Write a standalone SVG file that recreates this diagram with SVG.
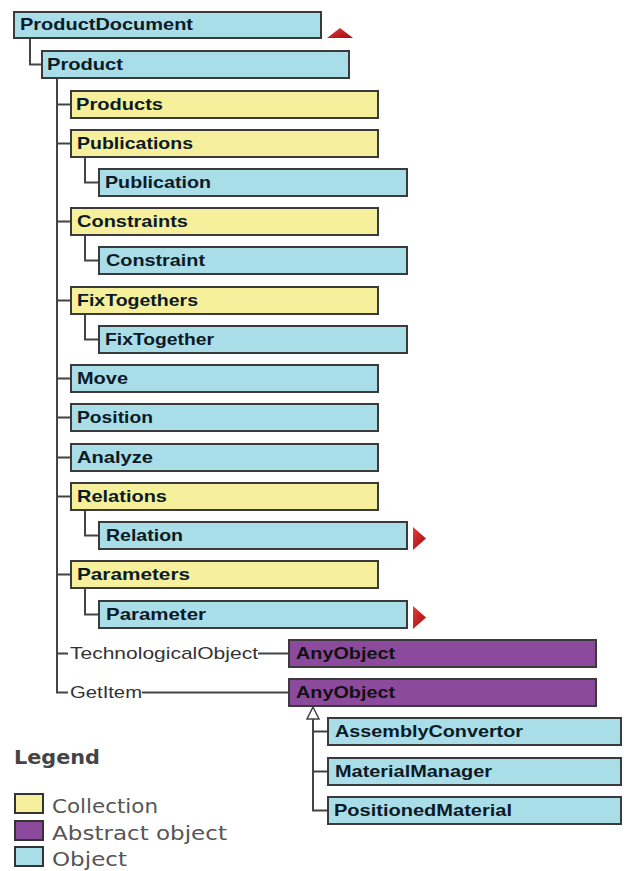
<svg xmlns="http://www.w3.org/2000/svg" width="624" height="871" viewBox="0 0 624 871">
<style>
.box rect{stroke:#3a3a3a;stroke-width:2}
.obj rect{fill:#a9dde8}
.col rect{fill:#f6f09c}
.abs rect{fill:#8b4a9c}
.box text{font-family:"Liberation Sans",Arial,sans-serif;font-weight:bold;font-size:17px;fill:#0c1a26}
.abs text{fill:#111}
.conn path{fill:none;stroke:#444;stroke-width:2}
.lbl{font-family:"Liberation Sans",Arial,sans-serif;font-size:17px;fill:#333}
.leg{font-family:"DejaVu Sans",Verdana,sans-serif;font-size:19px;fill:#555}
.sw{stroke:#333;stroke-width:2}
</style>
<defs>
<linearGradient id="red" x1="0" y1="0" x2="1" y2="1">
<stop offset="0" stop-color="#e83a3a"/>
<stop offset="1" stop-color="#9c0c0c"/>
</linearGradient>
</defs>
<g class="conn" id="connectors">
<path d="M30 38V64.5H42"/>
<path d="M57 78V692.5H68"/>
<path d="M57 104.5H71M57 143.5H71M57 221.5H71M57 300.5H71M57 378.5H71M57 417.5H71M57 457.5H71M57 496.5H71M57 574.5H71M57 653.5H68"/>
<path d="M85 157V182.5H99M85 235V260.5H99M85 314V339.5H99M85 510V535.5H99M85 588V614.5H99"/>
<path d="M258 653.5H289M142 692.5H289"/>
<path d="M313 719V810.5H328M313 731.5H328M313 771.5H328"/>
<polygon points="313,707 319,719 307,719" fill="#fff" stroke="#444" stroke-width="1.5"/>
<text class="lbl" x="70" y="659" textLength="188" lengthAdjust="spacingAndGlyphs">TechnologicalObject</text>
<text class="lbl" x="70" y="698" textLength="72" lengthAdjust="spacingAndGlyphs">GetItem</text>
</g>
<g id="n-ProductDocument" class="box obj"><rect x="14" y="12" width="307" height="26"/><text x="20" y="30" textLength="173" lengthAdjust="spacingAndGlyphs">ProductDocument</text></g>
<polygon points="327,38 340,28 353,38" fill="url(#red)"/>
<g id="n-Product" class="box obj"><rect x="42" y="51" width="307" height="27"/><text x="47" y="70" textLength="76" lengthAdjust="spacingAndGlyphs">Product</text></g>
<g id="n-Products" class="box col"><rect x="71" y="91" width="307" height="27"/><text x="76" y="110" textLength="87" lengthAdjust="spacingAndGlyphs">Products</text></g>
<g id="n-Publications" class="box col"><rect x="71" y="130" width="307" height="27"/><text x="77" y="149" textLength="116" lengthAdjust="spacingAndGlyphs">Publications</text></g>
<g id="n-Publication" class="box obj"><rect x="99" y="169" width="308" height="27"/><text x="105" y="188" textLength="106" lengthAdjust="spacingAndGlyphs">Publication</text></g>
<g id="n-Constraints" class="box col"><rect x="71" y="208" width="307" height="27"/><text x="77" y="227" textLength="111" lengthAdjust="spacingAndGlyphs">Constraints</text></g>
<g id="n-Constraint" class="box obj"><rect x="99" y="247" width="308" height="27"/><text x="106" y="266" textLength="99" lengthAdjust="spacingAndGlyphs">Constraint</text></g>
<g id="n-FixTogethers" class="box col"><rect x="71" y="287" width="307" height="27"/><text x="77" y="306" textLength="121" lengthAdjust="spacingAndGlyphs">FixTogethers</text></g>
<g id="n-FixTogether" class="box obj"><rect x="99" y="326" width="308" height="27"/><text x="105" y="345" textLength="109" lengthAdjust="spacingAndGlyphs">FixTogether</text></g>
<g id="n-Move" class="box obj"><rect x="71" y="365" width="307" height="27"/><text x="77" y="384" textLength="51" lengthAdjust="spacingAndGlyphs">Move</text></g>
<g id="n-Position" class="box obj"><rect x="71" y="404" width="307" height="27"/><text x="77" y="423" textLength="76" lengthAdjust="spacingAndGlyphs">Position</text></g>
<g id="n-Analyze" class="box obj"><rect x="71" y="444" width="307" height="27"/><text x="77" y="463" textLength="76" lengthAdjust="spacingAndGlyphs">Analyze</text></g>
<g id="n-Relations" class="box col"><rect x="71" y="483" width="307" height="27"/><text x="77" y="502" textLength="90" lengthAdjust="spacingAndGlyphs">Relations</text></g>
<g id="n-Relation" class="box obj"><rect x="99" y="522" width="308" height="27"/><text x="106" y="541" textLength="77" lengthAdjust="spacingAndGlyphs">Relation</text></g>
<polygon points="413,527 426,538.5 413,550" fill="url(#red)"/>
<g id="n-Parameters" class="box col"><rect x="71" y="561" width="307" height="27"/><text x="77" y="580" textLength="113" lengthAdjust="spacingAndGlyphs">Parameters</text></g>
<g id="n-Parameter" class="box obj"><rect x="99" y="601" width="308" height="27"/><text x="106" y="620" textLength="100" lengthAdjust="spacingAndGlyphs">Parameter</text></g>
<polygon points="413,606 426,617.5 413,629" fill="url(#red)"/>
<g id="n-AnyObject1" class="box abs"><rect x="289" y="640" width="307" height="27"/><text x="296" y="659" textLength="99" lengthAdjust="spacingAndGlyphs">AnyObject</text></g>
<g id="n-AnyObject2" class="box abs"><rect x="289" y="679" width="307" height="27"/><text x="296" y="698" textLength="99" lengthAdjust="spacingAndGlyphs">AnyObject</text></g>
<g id="n-AssemblyConvertor" class="box obj"><rect x="328" y="718" width="293" height="27"/><text x="335" y="737" textLength="188" lengthAdjust="spacingAndGlyphs">AssemblyConvertor</text></g>
<g id="n-MaterialManager" class="box obj"><rect x="328" y="758" width="293" height="27"/><text x="335" y="777" textLength="157" lengthAdjust="spacingAndGlyphs">MaterialManager</text></g>
<g id="n-PositionedMaterial" class="box obj"><rect x="328" y="797" width="293" height="27"/><text x="334" y="816" textLength="178" lengthAdjust="spacingAndGlyphs">PositionedMaterial</text></g>
<g id="legend">
<text x="14" y="764" class="leg" style="font-weight:bold;fill:#444" textLength="86" lengthAdjust="spacingAndGlyphs">Legend</text>
<rect class="sw" x="15" y="794" width="28" height="19" fill="#f6f09c"/>
<rect class="sw" x="15" y="821" width="28" height="19" fill="#8b4a9c"/>
<rect class="sw" x="15" y="847" width="28" height="19" fill="#a9dde8"/>
<text x="52" y="813" class="leg" textLength="106" lengthAdjust="spacingAndGlyphs">Collection</text>
<text x="52" y="840" class="leg" textLength="175" lengthAdjust="spacingAndGlyphs">Abstract object</text>
<text x="52" y="866" class="leg" textLength="75" lengthAdjust="spacingAndGlyphs">Object</text>
</g>
</svg>
